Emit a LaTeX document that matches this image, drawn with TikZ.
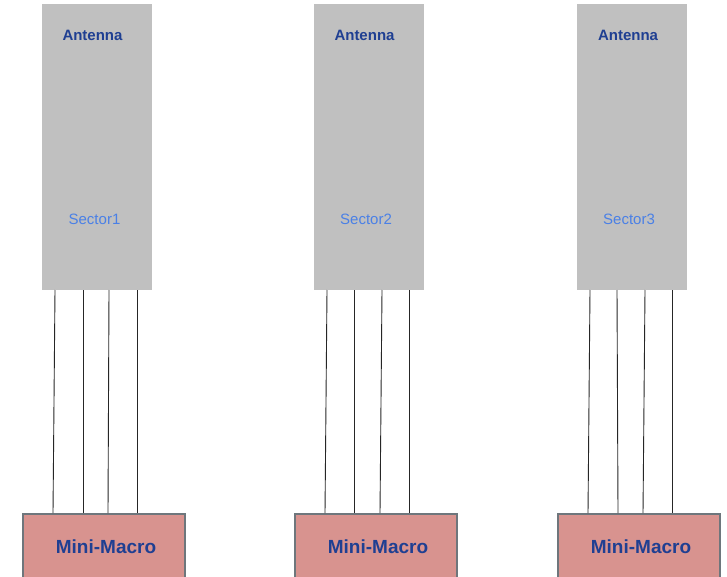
\documentclass[tikz,border=0pt]{standalone}
\usepackage{fontspec}
\setmainfont{Liberation Sans}
\definecolor{antgray}{HTML}{C0C0C0}
\definecolor{navy}{HTML}{1F3F92}
\definecolor{sectblue}{HTML}{4A80E6}
\definecolor{macrofill}{HTML}{D8938F}
\definecolor{macroedge}{HTML}{6E767C}
\begin{document}
\begin{tikzpicture}[x=1pt,y=-1pt,
  antbox/.style={fill=antgray,draw=none,minimum width=110pt,minimum height=286pt,inner sep=0pt,anchor=north west},
  macrobox/.style={fill=macrofill,draw=macroedge,line width=2pt,minimum width=162pt,minimum height=70pt,inner sep=0pt,outer sep=0pt,anchor=north west},
  anttext/.style={text=navy,font=\fontsize{15}{18}\selectfont\bfseries,inner sep=0pt},
  secttext/.style={text=sectblue,font=\fontsize{15}{18}\selectfont,inner sep=0pt},
  macrotext/.style={text=navy,font=\fontsize{19}{22}\selectfont\bfseries,inner sep=0pt},
  wire/.style={draw=black!85,line width=0.9pt}]
\useasboundingbox (0,0) rectangle (727,577);
% antennas
\node[antbox] (a1) at (42,4) {};
\node[antbox] (a2) at (314,4) {};
\node[antbox] (a3) at (577,4) {};
% macros
\node[macrobox] (m1) at (23,514) {};
\node[macrobox] (m2) at (295,514) {};
\node[macrobox] (m3) at (558,514) {};
% texts
\node[anttext] (t1) at (92.5,35) {Antenna};
\node[anttext] (t2) at (364.5,35) {Antenna};
\node[anttext] (t3) at (628,35) {Antenna};
\node[secttext] (s1) at (94.5,219) {Sector1};
\node[secttext] (s2) at (366,219) {Sector2};
\node[secttext] (s3) at (629,219) {Sector3};
\node[macrotext] (mt1) at (106,547) {Mini-Macro};
\node[macrotext] (mt2) at (378,547) {Mini-Macro};
\node[macrotext] (mt3) at (641,547) {Mini-Macro};
% wires
\foreach \i/\ta/\tb/\tc/\td/\ba/\bb/\bc/\bd in {1/55/83/109/137/53/83/108/137, 2/327/354/382/409/325/354/380/409, 3/590/617/645/672/588/618/643/672}{
  \coordinate (u\i a) at (\ta,290); \coordinate (d\i a) at (\ba,513);
  \coordinate (u\i b) at (\tb,290); \coordinate (d\i b) at (\bb,513);
  \coordinate (u\i c) at (\tc,290); \coordinate (d\i c) at (\bc,513);
  \coordinate (u\i d) at (\td,290); \coordinate (d\i d) at (\bd,513);
  \draw[wire] (u\i a) -- (d\i a);
  \draw[wire] (u\i b) -- (d\i b);
  \draw[wire] (u\i c) -- (d\i c);
  \draw[wire] (u\i d) -- (d\i d);
}
\end{tikzpicture}
\end{document}
